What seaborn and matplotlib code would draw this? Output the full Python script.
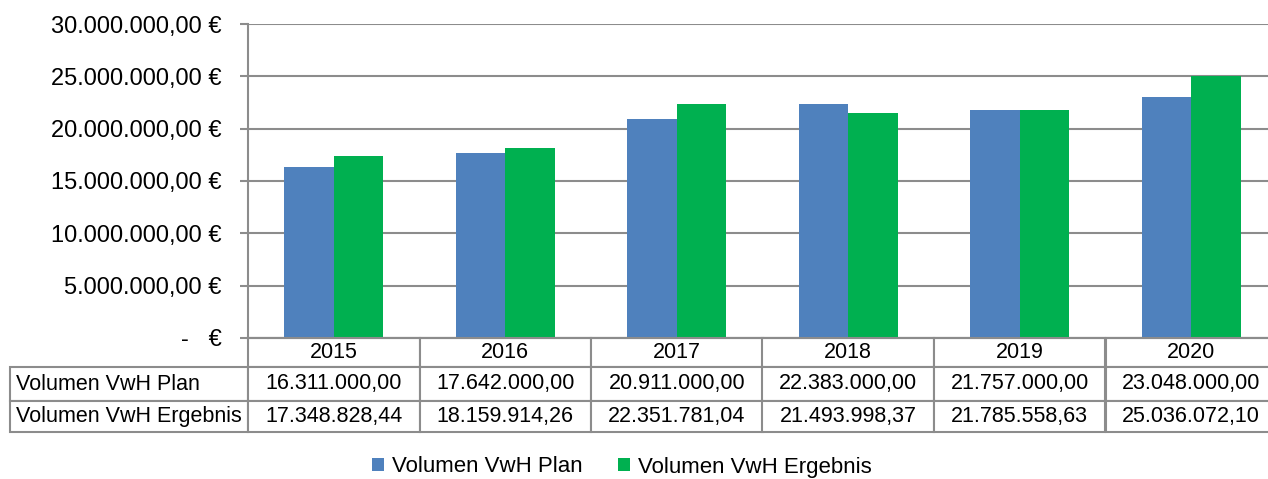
import matplotlib
matplotlib.use("Agg")
import matplotlib.pyplot as plt
import seaborn as sns
import pandas as pd
from matplotlib.ticker import FuncFormatter

years = ["2015", "2016", "2017", "2018", "2019", "2020"]
series_names = ["Volumen VwH Plan", "Volumen VwH Ergebnis"]
plan = [16311000.00, 17642000.00, 20911000.00, 22383000.00, 21757000.00, 23048000.00]
ergebnis = [17348828.44, 18159914.26, 22351781.04, 21493998.37, 21785558.63, 25036072.10]
yticks = [0, 5000000, 10000000, 15000000, 20000000, 25000000, 30000000]
colors = ["#4F81BD", "#00B050"]

df = pd.DataFrame({
    "Jahr": years * 2,
    "Serie": [series_names[0]] * len(years) + [series_names[1]] * len(years),
    "Wert": plan + ergebnis,
})


def de_num(v):
    s = f"{v:,.2f}"
    return s.replace(",", "X").replace(".", ",").replace("X", ".")


def euro_fmt(v, pos=None):
    if abs(v) < 1e-6:
        return "-   €"
    return de_num(v) + " €"


sns.set_theme(style="white")
plt.rcParams["font.family"] = ["Liberation Sans", "DejaVu Sans"]
plt.rcParams["text.color"] = "black"

W, H = 1268, 479
fig = plt.figure(figsize=(W / 100, H / 100), dpi=100)
ax_left, ax_right, ax_top, ax_bottom = 248, 1277, 24, 338
ax = fig.add_axes([ax_left / W, 1 - ax_bottom / H, (ax_right - ax_left) / W, (ax_bottom - ax_top) / H])

sns.barplot(data=df, x="Jahr", y="Wert", hue="Serie", palette=colors,
            width=0.575, gap=0, saturation=1, edgecolor="none", linewidth=0, ax=ax)

gray = "#8c8c8c"
ax.set_xlim(-0.5, len(years) - 0.5)
ax.set_ylim(0, 30000000)
ax.set_yticks(yticks)
ax.yaxis.set_major_formatter(FuncFormatter(euro_fmt))
ax.set_axisbelow(True)
ax.grid(axis="y", color=gray, linewidth=1.5)
ax.grid(axis="x", visible=False)
for side in ["top", "right"]:
    ax.spines[side].set_visible(False)
for side in ["left", "bottom"]:
    ax.spines[side].set_color(gray)
    ax.spines[side].set_linewidth(1.5)
ax.tick_params(axis="y", which="major", length=6, width=1.5, color=gray,
               pad=13, labelsize=17, labelcolor="black", left=True)
ax.set_xticks([])
ax.set_xlabel("")
ax.set_ylabel("")

handles, labels = ax.get_legend_handles_labels()
if ax.get_legend() is not None:
    ax.get_legend().remove()

# data table below the axes (sizes in axes fractions)
ax_w_px = ax_right - ax_left
ax_h_px = ax_bottom - ax_top
label_w = 252 / ax_w_px
col_w = 1.0 / len(years)
row_h = [29 / ax_h_px, 34 / ax_h_px, 31 / ax_h_px]

cell_text = [[de_num(v) for v in plan], [de_num(v) for v in ergebnis]]
table = ax.table(cellText=cell_text, rowLabels=series_names, colLabels=years,
                 cellLoc="center", rowLoc="left", colLoc="center", loc="bottom")
table.auto_set_font_size(False)
table.set_fontsize(15.5)
for (r, c), cell in table.get_celld().items():
    cell.set_edgecolor(gray)
    cell.set_linewidth(1.5)
    cell.set_height(row_h[r])
    cell.set_width(label_w if c == -1 else col_w)
    cell.get_text().set_color("black")
    if c == -1:
        cell.PAD = 0.028

leg = fig.legend(handles, labels, loc="center", bbox_to_anchor=(622 / W, 1 - 467 / H),
                 ncol=2, frameon=False, fontsize=16, handlelength=0.55, handleheight=0.55,
                 handletextpad=0.35, columnspacing=1.6, borderaxespad=0, borderpad=0)
for t in leg.get_texts():
    t.set_color("black")

fig.savefig("out.png", dpi=100)
